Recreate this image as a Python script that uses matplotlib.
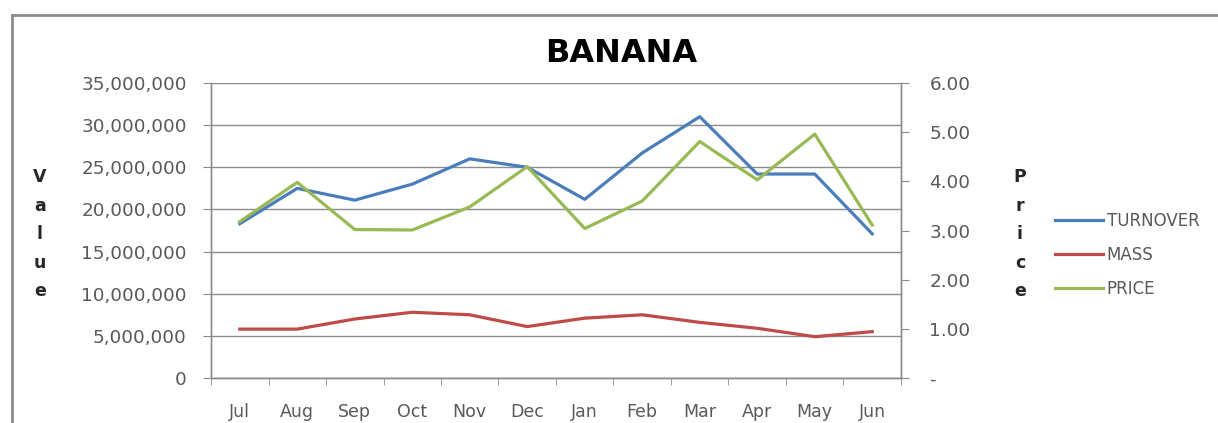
import matplotlib
matplotlib.use("Agg")
import matplotlib.pyplot as plt
from matplotlib.lines import Line2D
from matplotlib.ticker import FuncFormatter, FixedLocator

months = ["Jul", "Aug", "Sep", "Oct", "Nov", "Dec", "Jan", "Feb", "Mar", "Apr", "May", "Jun"]
turnover = [18.3e6, 22.5e6, 21.1e6, 23.0e6, 26.0e6, 25.0e6, 21.2e6, 26.7e6, 31.0e6, 24.2e6, 24.2e6, 17.1e6]
mass = [5.8e6, 5.8e6, 7.0e6, 7.8e6, 7.5e6, 6.1e6, 7.1e6, 7.5e6, 6.6e6, 5.9e6, 4.9e6, 5.5e6]
price = [3.18, 3.98, 3.02, 3.01, 3.48, 4.30, 3.04, 3.60, 4.81, 4.03, 4.96, 3.11]

c_turn = "#4A7EBB"
c_mass = "#BE4B48"
c_price = "#98B954"
grey = "#8c8c8c"
txt = "#595959"

plt.rcParams["font.family"] = ["DejaVu Sans"]

fig = plt.figure(figsize=(12.18, 4.23), dpi=100)
ax = fig.add_axes([211 / 1218, 1 - 378 / 423, 690 / 1218, 295 / 423])
ax2 = ax.twinx()

x = list(range(len(months)))
l1, = ax.plot(x, turnover, color=c_turn, lw=2.3, label="TURNOVER")
l2, = ax.plot(x, mass, color=c_mass, lw=2.3, label="MASS")
l3, = ax2.plot(x, price, color=c_price, lw=2.3, label="PRICE")

ax.set_xlim(-0.5, len(months) - 0.5)
ax.set_ylim(0, 35e6)
ax.set_yticks([i * 5e6 for i in range(8)])
ax.yaxis.set_major_formatter(FuncFormatter(lambda v, p: "{:,.0f}".format(v)))
ax2.set_ylim(0, 6)
ax2.set_yticks(range(7))
ax2.yaxis.set_major_formatter(FuncFormatter(lambda v, p: "-" if v == 0 else "{:.2f}".format(v)))

ax.set_xticks(x)
ax.set_xticklabels(months)
ax.xaxis.set_minor_locator(FixedLocator([i - 0.5 for i in range(len(months) + 1)]))
ax.tick_params(axis="x", which="major", length=0, pad=18, labelsize=12.5, labelcolor=txt)
ax.tick_params(axis="x", which="minor", length=5, color=grey, direction="out")
ax.tick_params(axis="y", length=6, color=grey, labelsize=13.2, labelcolor=txt, pad=11.5)
ax2.tick_params(axis="y", length=6, color=grey, labelsize=13.2, labelcolor=txt, pad=14.5)

ax.grid(axis="y", color=grey, lw=1)
ax.set_axisbelow(True)
ax.spines["top"].set_visible(False)
ax2.spines["top"].set_visible(False)
for a in (ax, ax2):
    for s in ["left", "right", "bottom"]:
        a.spines[s].set_color(grey)
        a.spines[s].set_linewidth(1)

fig.text(621 / 1218, 1 - 54 / 423, "BANANA", ha="center", va="center",
         fontsize=23, fontweight="bold", color="black")

fig.text(40 / 1218, 1 - 234 / 423, "\n".join("Value"), ha="center", va="center",
         fontsize=12.5, fontweight="bold", color="#262626", linespacing=1.75)
fig.text(1020 / 1218, 1 - 234 / 423, "\n".join("Price"), ha="center", va="center",
         fontsize=12.5, fontweight="bold", color="#262626", linespacing=1.75)

fig.legend(handles=[l1, l2, l3], loc="center left", bbox_to_anchor=(1040 / 1218, 1 - 255 / 423),
           frameon=False, fontsize=12, handlelength=2.9, handletextpad=0.2,
           labelspacing=0.95, labelcolor=txt)

# outer chart border (top and left visible)
fig.add_artist(Line2D([12 / 1218, 1], [1 - 15 / 423, 1 - 15 / 423], color="#8c8c8c", lw=2,
                      transform=fig.transFigure))
fig.add_artist(Line2D([12 / 1218, 12 / 1218], [0, 1 - 15 / 423], color="#8c8c8c", lw=2,
                      transform=fig.transFigure))

fig.savefig("out.png", dpi=100)
